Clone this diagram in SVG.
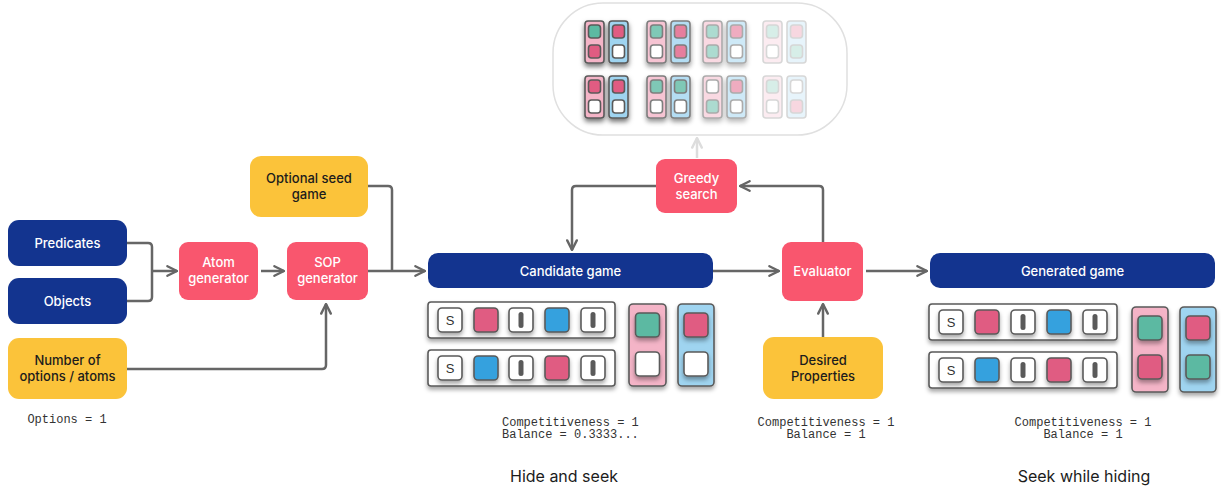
<svg xmlns="http://www.w3.org/2000/svg" width="1221" height="488" viewBox="0 0 1221 488">
<defs>
<style>
.lbl{font-family:Inter,"DejaVu Sans",sans-serif;font-size:13px;font-weight:500;text-anchor:middle}
.w{fill:#ffffff}
.d{fill:#1c1c1c}
.navy{fill:#13348f}
.red{fill:#f9566e}
.yel{fill:#fbc33a}
.mono{font-family:"Liberation Mono",monospace;font-size:12px;fill:#333}
.cap{font-family:Inter,"DejaVu Sans",sans-serif;font-size:16px;fill:#1c1c1c;text-anchor:middle}
.con{fill:none;stroke:#666;stroke-width:2.5;stroke-linejoin:round}
.strip{fill:#fff;stroke:#5a5a5a;stroke-width:1.6}
.sq{stroke:#5a5a5a;stroke-width:1.6}
.pk{fill:#e05c82}.bl{fill:#35a1de}.tl{fill:#5bb9a2}.wh{fill:#fff}
.pcol{fill:#f4b4c7;stroke:#5a5a5a;stroke-width:1.6}
.bcol{fill:#9fd4f0;stroke:#5a5a5a;stroke-width:1.6}
.bar{fill:#5a5a5a}
.s{font-family:"Liberation Sans",sans-serif;font-size:13px;fill:#333;text-anchor:middle}
</style>
<filter id="sh" x="-30%" y="-30%" width="160%" height="170%"><feDropShadow dx="0" dy="3" stdDeviation="2" flood-color="#000" flood-opacity="0.35"/></filter>
<filter id="sh2" x="-40%" y="-30%" width="180%" height="170%"><feDropShadow dx="0" dy="3" stdDeviation="2.5" flood-color="#000" flood-opacity="0.55"/></filter>
<filter id="blur1" x="-40%" y="-30%" width="180%" height="170%"><feGaussianBlur stdDeviation="0.7"/></filter>
<marker id="ah" viewBox="0 0 10 10" refX="9" refY="5" markerWidth="12" markerHeight="12" markerUnits="userSpaceOnUse" orient="auto">
<path d="M1,1 L9,5 L1,9" fill="none" stroke="#666" stroke-width="2" stroke-linejoin="round" stroke-linecap="round"/>
</marker>
<marker id="ahl" viewBox="0 0 10 10" refX="9" refY="5" markerWidth="12" markerHeight="12" markerUnits="userSpaceOnUse" orient="auto">
<path d="M1,1 L9,5 L1,9" fill="none" stroke="#ddd" stroke-width="2" stroke-linejoin="round" stroke-linecap="round"/>
</marker>
</defs>
<rect width="1221" height="488" fill="#fff"/>

<g id="connectors">
<path class="con" d="M127,243 H148 Q152,243 152,247 V297 Q152,301 148,301 H127"/>
<path class="con" d="M152,271 H177" marker-end="url(#ah)"/>
<path class="con" d="M261,271 H284" marker-end="url(#ah)"/>
<path class="con" d="M127,369 H322 Q326,369 326,365 V304" marker-end="url(#ah)"/>
<path class="con" d="M368,186 H388 Q392,186 392,190 V271"/>
<path class="con" d="M368,271 H425" marker-end="url(#ah)"/>
<path class="con" d="M656,186 H576 Q572,186 572,190 V250" marker-end="url(#ah)"/>
<path class="con" d="M713,271 H779" marker-end="url(#ah)"/>
<path class="con" d="M823,242 V190 Q823,186 819,186 H740" marker-end="url(#ah)"/>
<path class="con" d="M866,271 H927" marker-end="url(#ah)"/>
<path class="con" d="M823,337 V304" marker-end="url(#ah)"/>
<path class="con" d="M697,158 V138" style="stroke:#ddd" marker-end="url(#ahl)"/>
</g>

<g id="search-space">
<rect x="553" y="3" width="294" height="132" rx="50" fill="#fff" stroke="#e0e0e0" stroke-width="1.5"/>
<g id="set1" filter="url(#sh2)">
<rect class="pcol" x="585" y="21" width="19" height="42" rx="3"/><rect class="sq tl" x="588.5" y="25" width="12" height="13" rx="3"/><rect class="sq pk" x="588.5" y="45" width="12" height="13" rx="3"/>
<rect class="bcol" x="609" y="21" width="19" height="42" rx="3"/><rect class="sq pk" x="612.5" y="25" width="12" height="13" rx="3"/><rect class="sq wh" x="612.5" y="45" width="12" height="13" rx="3"/>
<rect class="pcol" x="585" y="76" width="19" height="42" rx="3"/><rect class="sq pk" x="588.5" y="80" width="12" height="13" rx="3"/><rect class="sq wh" x="588.5" y="100" width="12" height="13" rx="3"/>
<rect class="bcol" x="609" y="76" width="19" height="42" rx="3"/><rect class="sq pk" x="612.5" y="80" width="12" height="13" rx="3"/><rect class="sq wh" x="612.5" y="100" width="12" height="13" rx="3"/>
</g>
<g id="set2" opacity="0.78" filter="url(#sh2)">
<rect class="pcol" x="647" y="21" width="19" height="42" rx="3"/><rect class="sq tl" x="650.5" y="25" width="12" height="13" rx="3"/><rect class="sq wh" x="650.5" y="45" width="12" height="13" rx="3"/>
<rect class="bcol" x="671" y="21" width="19" height="42" rx="3"/><rect class="sq pk" x="674.5" y="25" width="12" height="13" rx="3"/><rect class="sq pk" x="674.5" y="45" width="12" height="13" rx="3"/>
<rect class="pcol" x="647" y="76" width="19" height="42" rx="3"/><rect class="sq tl" x="650.5" y="80" width="12" height="13" rx="3"/><rect class="sq wh" x="650.5" y="100" width="12" height="13" rx="3"/>
<rect class="bcol" x="671" y="76" width="19" height="42" rx="3"/><rect class="sq tl" x="674.5" y="80" width="12" height="13" rx="3"/><rect class="sq wh" x="674.5" y="100" width="12" height="13" rx="3"/>
</g>
<g id="set3" opacity="0.5" filter="url(#sh2)">
<rect class="pcol" x="703" y="21" width="19" height="42" rx="3"/><rect class="sq tl" x="706.5" y="25" width="12" height="13" rx="3"/><rect class="sq tl" x="706.5" y="45" width="12" height="13" rx="3"/>
<rect class="bcol" x="727" y="21" width="19" height="42" rx="3"/><rect class="sq pk" x="730.5" y="25" width="12" height="13" rx="3"/><rect class="sq wh" x="730.5" y="45" width="12" height="13" rx="3"/>
<rect class="pcol" x="703" y="76" width="19" height="42" rx="3"/><rect class="sq wh" x="706.5" y="80" width="12" height="13" rx="3"/><rect class="sq tl" x="706.5" y="100" width="12" height="13" rx="3"/>
<rect class="bcol" x="727" y="76" width="19" height="42" rx="3"/><rect class="sq pk" x="730.5" y="80" width="12" height="13" rx="3"/><rect class="sq wh" x="730.5" y="100" width="12" height="13" rx="3"/>
</g>
<g id="set4" opacity="0.24" filter="url(#blur1)">
<rect class="pcol" x="763" y="21" width="19" height="42" rx="3"/><rect class="sq tl" x="766.5" y="25" width="12" height="13" rx="3"/><rect class="sq wh" x="766.5" y="45" width="12" height="13" rx="3"/>
<rect class="bcol" x="787" y="21" width="19" height="42" rx="3"/><rect class="sq pk" x="790.5" y="25" width="12" height="13" rx="3"/><rect class="sq tl" x="790.5" y="45" width="12" height="13" rx="3"/>
<rect class="pcol" x="763" y="76" width="19" height="42" rx="3"/><rect class="sq tl" x="766.5" y="80" width="12" height="13" rx="3"/><rect class="sq wh" x="766.5" y="100" width="12" height="13" rx="3"/>
<rect class="bcol" x="787" y="76" width="19" height="42" rx="3"/><rect class="sq wh" x="790.5" y="80" width="12" height="13" rx="3"/><rect class="sq pk" x="790.5" y="100" width="12" height="13" rx="3"/>
</g>
</g>

<g id="predicates"><rect class="navy" x="8" y="220" width="119" height="46" rx="11"/><text class="lbl w" x="67.5" y="247.5">Predicates</text></g>
<g id="objects"><rect class="navy" x="8" y="278" width="119" height="46" rx="11"/><text class="lbl w" x="67.5" y="305.5">Objects</text></g>
<g id="num-options"><rect class="yel" x="8" y="338" width="119" height="61" rx="11"/><text class="lbl d" x="67.5" y="365">Number of</text><text class="lbl d" x="67.5" y="381">options / atoms</text></g>
<g id="atom-gen"><rect class="red" x="179" y="242" width="79" height="58" rx="9"/><text class="lbl w" x="218.5" y="267">Atom</text><text class="lbl w" x="218.5" y="283">generator</text></g>
<g id="sop-gen"><rect class="red" x="287" y="242" width="81" height="58" rx="9"/><text class="lbl w" x="327.5" y="267">SOP</text><text class="lbl w" x="327.5" y="283">generator</text></g>
<g id="seed"><rect class="yel" x="250" y="156" width="118" height="61" rx="11"/><text class="lbl d" x="309" y="183">Optional seed</text><text class="lbl d" x="309" y="199">game</text></g>
<g id="candidate"><rect class="navy" x="428" y="253" width="285" height="35" rx="10"/><text class="lbl w" x="570.5" y="275.5">Candidate game</text></g>
<g id="greedy"><rect class="red" x="656" y="159" width="81" height="54" rx="9"/><text class="lbl w" x="696.5" y="183">Greedy</text><text class="lbl w" x="696.5" y="199">search</text></g>
<g id="evaluator"><rect class="red" x="782" y="242" width="81" height="59" rx="9"/><text class="lbl w" x="822.5" y="275.5">Evaluator</text></g>
<g id="generated"><rect class="navy" x="930" y="253" width="285" height="35" rx="10"/><text class="lbl w" x="1072.5" y="275.5">Generated game</text></g>
<g id="desired"><rect class="yel" x="763" y="337" width="120" height="62" rx="11"/><text class="lbl d" x="823" y="365">Desired</text><text class="lbl d" x="823" y="381">Properties</text></g>

<g id="candidate-game-card">
<g filter="url(#sh)">
<rect class="strip" x="428" y="302" width="187" height="36" rx="3"/>
<rect class="strip" x="428" y="350" width="187" height="36" rx="3"/>
<rect class="pcol" x="629" y="304" width="37" height="82" rx="4"/>
<rect class="bcol" x="678" y="304" width="36" height="82" rx="4"/>
</g>
<g filter="url(#sh)">
<rect class="sq wh" x="438" y="308" width="24" height="24" rx="4"/>
<rect class="sq pk" x="474" y="308" width="24" height="24" rx="4"/>
<rect class="sq wh" x="509" y="308" width="24" height="24" rx="4"/>
<rect class="sq bl" x="545" y="308" width="24" height="24" rx="4"/>
<rect class="sq wh" x="581" y="308" width="24" height="24" rx="4"/>
<rect class="sq wh" x="438" y="356" width="24" height="24" rx="4"/>
<rect class="sq bl" x="474" y="356" width="24" height="24" rx="4"/>
<rect class="sq wh" x="509" y="356" width="24" height="24" rx="4"/>
<rect class="sq pk" x="545" y="356" width="24" height="24" rx="4"/>
<rect class="sq wh" x="581" y="356" width="24" height="24" rx="4"/>
<rect class="sq tl" x="635.5" y="313" width="24" height="24" rx="4"/>
<rect class="sq wh" x="635.5" y="352" width="24" height="24" rx="4"/>
<rect class="sq pk" x="684" y="313" width="24" height="24" rx="4"/>
<rect class="sq wh" x="684" y="352" width="24" height="24" rx="4"/>
</g>
<text class="s" x="450" y="325">S</text><text class="s" x="450" y="373">S</text>
<rect class="bar" x="518.5" y="312" width="5" height="16" rx="2.5"/><rect class="bar" x="590.5" y="312" width="5" height="16" rx="2.5"/>
<rect class="bar" x="518.5" y="360" width="5" height="16" rx="2.5"/><rect class="bar" x="590.5" y="360" width="5" height="16" rx="2.5"/>
</g>

<g id="generated-game-card">
<g filter="url(#sh)">
<rect class="strip" x="929" y="304" width="188" height="36" rx="3"/>
<rect class="strip" x="929" y="352" width="188" height="36" rx="3"/>
<rect class="pcol" x="1132" y="307" width="36" height="85" rx="4"/>
<rect class="bcol" x="1180" y="307" width="36" height="85" rx="4"/>
</g>
<g filter="url(#sh)">
<rect class="sq wh" x="939" y="310" width="24" height="24" rx="4"/>
<rect class="sq pk" x="975" y="310" width="24" height="24" rx="4"/>
<rect class="sq wh" x="1011" y="310" width="24" height="24" rx="4"/>
<rect class="sq bl" x="1047" y="310" width="24" height="24" rx="4"/>
<rect class="sq wh" x="1083" y="310" width="24" height="24" rx="4"/>
<rect class="sq wh" x="939" y="358" width="24" height="24" rx="4"/>
<rect class="sq bl" x="975" y="358" width="24" height="24" rx="4"/>
<rect class="sq wh" x="1011" y="358" width="24" height="24" rx="4"/>
<rect class="sq pk" x="1047" y="358" width="24" height="24" rx="4"/>
<rect class="sq wh" x="1083" y="358" width="24" height="24" rx="4"/>
<rect class="sq tl" x="1138" y="316" width="24" height="24" rx="4"/>
<rect class="sq pk" x="1138" y="355" width="24" height="24" rx="4"/>
<rect class="sq pk" x="1186" y="316" width="24" height="24" rx="4"/>
<rect class="sq tl" x="1186" y="355" width="24" height="24" rx="4"/>
</g>
<text class="s" x="951" y="327">S</text><text class="s" x="951" y="375">S</text>
<rect class="bar" x="1020.5" y="314" width="5" height="16" rx="2.5"/><rect class="bar" x="1092.5" y="314" width="5" height="16" rx="2.5"/>
<rect class="bar" x="1020.5" y="362" width="5" height="16" rx="2.5"/><rect class="bar" x="1092.5" y="362" width="5" height="16" rx="2.5"/>
</g>

<g id="texts">
<text class="mono" x="67" y="423" text-anchor="middle">Options = 1</text>
<text class="mono" x="502" y="426">Competitiveness = 1</text>
<text class="mono" x="502" y="438">Balance = 0.3333...</text>
<text class="mono" x="826" y="426" text-anchor="middle">Competitiveness = 1</text>
<text class="mono" x="826" y="438" text-anchor="middle">Balance = 1</text>
<text class="mono" x="1083" y="426" text-anchor="middle">Competitiveness = 1</text>
<text class="mono" x="1083" y="438" text-anchor="middle">Balance = 1</text>
<text class="cap" x="564" y="482">Hide and seek</text>
<text class="cap" x="1084" y="482">Seek while hiding</text>
</g>
</svg>
